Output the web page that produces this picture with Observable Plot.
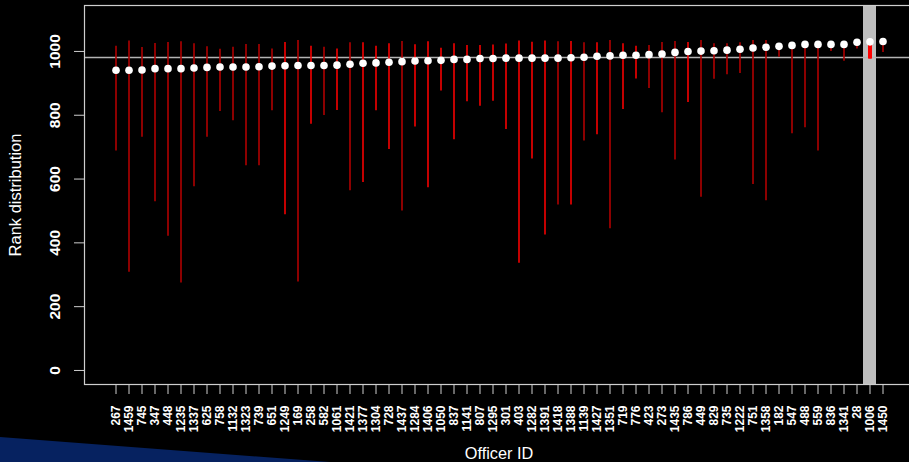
<!DOCTYPE html>
<html>
<head>
<meta charset="utf-8">
<script src="https://cdn.jsdelivr.net/npm/d3@7"></script>
<script src="https://cdn.jsdelivr.net/npm/@observablehq/plot@0.6"></script>
<style>
  html, body { margin: 0; padding: 0; background: #000; width: 909px; height: 462px; overflow: hidden; }
  #wrap { position: relative; width: 909px; height: 462px; overflow: hidden; }
  #deco { position: absolute; left: 0; top: 0; width: 909px; height: 462px; background: #062260;
          clip-path: polygon(0px 437px, 330px 462px, 0px 462px); z-index: 0; }
  #chart { position: absolute; left: 0; top: 0; width: 913px; z-index: 1; }
  #chart svg { max-width: none !important; }
</style>
</head>
<body>
<div id="wrap"><div id="deco"></div><div id="chart"></div></div>
<script>
const officerIds = ["267","1459","745","347","448","1235","1337","625","758","1132","1323","739","651","1249","169","258","582","1061","1421","1377","1304","728","1437","1284","1406","1050","837","1141","807","1295","301","403","1282","1391","1418","1388","1139","1427","1351","719","776","423","273","1435","786","449","829","735","1222","751","1358","182","547","488","559","836","1341","28","1006","1450"];
const rankLow  = [688,308,731,529,421,274,576,731,812,783,642,642,814,488,277,772,799,815,563,589,814,693,500,763,573,876,723,842,828,844,755,336,663,425,519,519,719,739,444,818,914,884,808,660,840,543,913,927,931,583,532,982,742,761,688,1000,969,1008,976,997];
const rankHigh = [1016,1033,1012,1025,1028,1030,1024,1015,1007,1013,1022,1022,1008,1028,1034,1016,1013,1008,1027,1027,1016,1024,1031,1021,1030,1010,1024,1019,1019,1020,1023,1033,1029,1033,1030,1031,1027,1027,1034,1024,1016,1019,1028,1031,1028,1034,1024,1024,1027,1034,1034,1020,1024,1027,1027,1025,1025,1032,1033,1034];
const rankMean = [941,941,942,946,946,946,948,950,951,951,951,952,954,955,956,956,956,957,960,963,964,966,968,970,971,972,975,975,978,978,979,979,979,979,979,980,982,985,986,988,988,990,992,997,1000,1001,1002,1004,1007,1011,1013,1016,1019,1022,1022,1022,1022,1029,1030,1031];
const lineShade = ["D","D","D","D","D","D","D","D","D","D","D","D","D","B","D","B","D","B","D","B","B","B","D","B","B","B","B","B","B","B","B","B","B","B","D","B","D","B","D","B","B","D","D","D","B","D","D","D","D","D","D","D","D","D","D","D","D","D","B","D"];
const highlighted = ["1006"];
const highlightLow = [976];
const highlightHigh = [1030];
const referenceLine = [981];
const yTicks = [0, 200, 400, 600, 800, 1000];
const yDomain = [-44, 1144];
const xTitle = ["Officer ID"];
const yTitle = ["Rank distribution"];

const shadeColor = {D: "#b00000", B: "#f50000"};
const idx = officerIds.map((_, i) => i);

const chart = Plot.plot({
  width: 913,
  height: 462,
  marginLeft: 84,
  marginRight: 0,
  marginTop: 5,
  marginBottom: 78,
  style: {background: "transparent", color: "#fff", fontFamily: "'Liberation Sans', Arial, sans-serif", fontWeight: "bold", overflow: "visible", maxWidth: "none"},
  x: {type: "band", domain: officerIds, padding: 0, insetLeft: 24.5, insetRight: 24.5, axis: null},
  y: {domain: yDomain, axis: null},
  marks: [
    Plot.barY(highlighted, {x: d => d, y1: () => yDomain[0], y2: () => yDomain[1], fill: "#bebebe", insetLeft: 0, insetRight: 0}),
    Plot.ruleY(referenceLine, {y: d => d, stroke: "#b4b4b4", strokeWidth: 1.5}),
    Plot.ruleX(idx, {x: i => officerIds[i], y1: i => rankLow[i], y2: i => rankHigh[i], stroke: i => shadeColor[lineShade[i]], strokeWidth: 1.6}),
    Plot.ruleX(highlighted.map((d, i) => i), {x: i => highlighted[i], y1: i => highlightLow[i], y2: i => highlightHigh[i], stroke: "#ff0000", strokeWidth: 4}),
    Plot.dot(idx, {x: i => officerIds[i], y: i => rankMean[i], r: 3.8, fill: "#fff", stroke: null}),
    Plot.frame({stroke: "#cfcfcf", strokeWidth: 1.2}),
    Plot.axisY(yTicks, {anchor: "left", tickSize: 10, tickPadding: 15, tickRotate: -90, tickFormat: d => String(d), fontSize: 15.5, stroke: "#cfcfcf", fill: "#fff", label: null}),
    Plot.axisX({anchor: "bottom", tickSize: 10, tickPadding: 11, tickRotate: -90, fontSize: 12, stroke: "#cfcfcf", fill: "#fff", label: null}),
    Plot.text(xTitle, {frameAnchor: "bottom", dy: 69, lineAnchor: "middle", fontSize: 16.3, fontWeight: "normal", fill: "#fff"}),
    Plot.text(yTitle, {frameAnchor: "left", dx: -69, rotate: -90, textAnchor: "middle", lineAnchor: "middle", fontSize: 16.5, fontWeight: "normal", fill: "#fff"})
  ]
});
document.getElementById("chart").appendChild(chart);
</script>
</body>
</html>
